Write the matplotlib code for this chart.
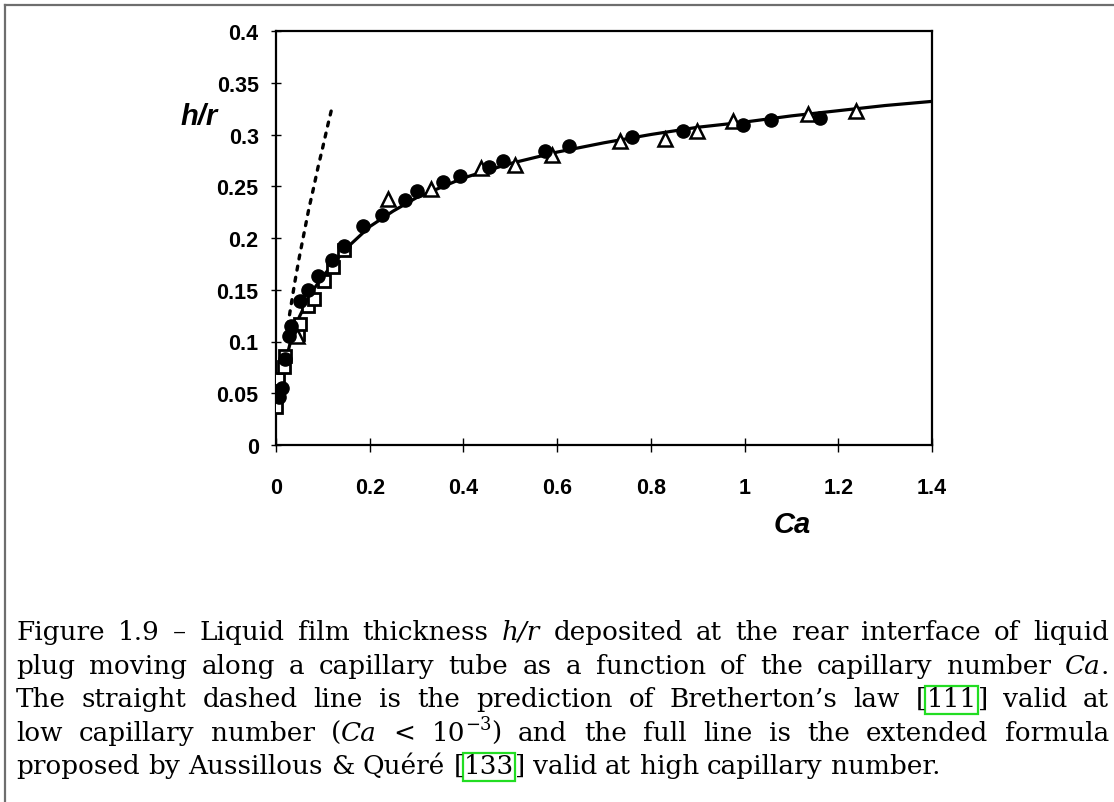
import matplotlib
matplotlib.use('Agg')
import matplotlib.pyplot as plt
from matplotlib.patches import Rectangle
from matplotlib.lines import Line2D
from matplotlib.transforms import IdentityTransform

# ---------------- data ----------------
circ_ca = [0.007, 0.012, 0.020, 0.028, 0.033, 0.052, 0.068, 0.090, 0.120, 0.145,
           0.186, 0.226, 0.275, 0.300, 0.357, 0.393, 0.455, 0.485, 0.574, 0.625,
           0.760, 0.868, 0.997, 1.056, 1.161]
circ_h = [0.046, 0.055, 0.083, 0.105, 0.115, 0.139, 0.150, 0.163, 0.179, 0.192,
          0.212, 0.222, 0.237, 0.245, 0.254, 0.260, 0.269, 0.274, 0.284, 0.289,
          0.298, 0.303, 0.309, 0.314, 0.316]

sq_ca = [0.000, 0.005, 0.018, 0.020, 0.047, 0.052, 0.068, 0.081, 0.102, 0.122, 0.145]
sq_h = [0.037, 0.064, 0.075, 0.086, 0.107, 0.117, 0.134, 0.141, 0.158, 0.172, 0.188]

tri_ca = [0.045, 0.239, 0.330, 0.438, 0.510, 0.590, 0.734, 0.830, 0.898, 0.975,
          1.135, 1.238]
tri_h = [0.105, 0.238, 0.247, 0.268, 0.271, 0.280, 0.294, 0.296, 0.303, 0.313,
         0.320, 0.323]

# full line (extended formula)
fit_ca = [0.004, 0.01, 0.02, 0.03, 0.05, 0.075, 0.10, 0.15, 0.20, 0.25, 0.30,
          0.40, 0.50, 0.60, 0.70, 0.80, 0.90, 1.00, 1.10, 1.20, 1.30, 1.40]
fit_h = [0.032, 0.056, 0.080, 0.098, 0.124, 0.147, 0.163, 0.190, 0.211, 0.226,
         0.239, 0.258, 0.272, 0.283, 0.292, 0.300, 0.307, 0.312, 0.318, 0.323,
         0.328, 0.332]

# dashed line (Bretherton's law)
bret_ca = [0.025, 0.030, 0.040, 0.050, 0.060, 0.070, 0.080, 0.090, 0.100, 0.110, 0.120]
bret_h = [0.115, 0.129, 0.157, 0.182, 0.205, 0.228, 0.248, 0.269, 0.288, 0.308, 0.327]

x_ticks = [0, 0.2, 0.4, 0.6, 0.8, 1.0, 1.2, 1.4]
x_labels = ['0', '0.2', '0.4', '0.6', '0.8', '1', '1.2', '1.4']
y_ticks = [0, 0.05, 0.1, 0.15, 0.2, 0.25, 0.3, 0.35, 0.4]
y_labels = ['0', '0.05', '0.1', '0.15', '0.2', '0.25', '0.3', '0.35', '0.4']

W, H = 1114, 803
fig = plt.figure(figsize=(W / 100, H / 100), dpi=100)
fig.patch.set_facecolor('white')

sans = ['Liberation Sans Narrow', 'Liberation Sans', 'DejaVu Sans']

ax = fig.add_axes([276 / W, (H - 446) / H, (932 - 276) / W, (446 - 32) / H])
ax.plot(fit_ca, fit_h, color='black', lw=2.3, zorder=2)
ax.plot(bret_ca, bret_h, color='black', lw=2.4, linestyle=(0, (1.2, 2.2)),
        dash_capstyle='round', zorder=2)
ax.plot(sq_ca, sq_h, linestyle='none', marker='s', markersize=9,
        markerfacecolor='white', markeredgecolor='black', markeredgewidth=2.0, zorder=3)
ax.plot(tri_ca, tri_h, linestyle='none', marker='^', markersize=9.5,
        markerfacecolor='white', markeredgecolor='black', markeredgewidth=1.8, zorder=3)
ax.plot(circ_ca, circ_h, linestyle='none', marker='o', markersize=9.5,
        markerfacecolor='black', markeredgecolor='black', zorder=4)

ax.set_xlim(0, 1.4)
ax.set_ylim(0, 0.4)
ax.set_xticks(x_ticks)
ax.set_xticklabels(x_labels)
ax.set_yticks(y_ticks)
ax.set_yticklabels(y_labels)
for lab in ax.get_xticklabels() + ax.get_yticklabels():
    lab.set_family(sans)
    lab.set_fontweight('bold')
    lab.set_fontsize(15.5)
ax.tick_params(axis='x', direction='inout', length=10, width=1.0, pad=18)
ax.tick_params(axis='y', direction='inout', length=7, width=1.0, pad=9)
for sp in ax.spines.values():
    sp.set_linewidth(1.6)

fig.text(199 / W, 1 - 117 / H, 'h/r', family=sans, fontweight='bold', style='italic',
         fontsize=21, ha='center', va='center')
fig.text(792 / W, 1 - 525 / H, 'Ca', family=sans, fontweight='bold', style='italic',
         fontsize=21, ha='center', va='center')

# ---------------- frame lines ----------------
ident = IdentityTransform()
fig.add_artist(Line2D([5, W], [H - 6, H - 6], color='#6e6e6e', lw=1.6, transform=ident))
fig.add_artist(Line2D([5, 5], [H - 6, 0], color='#6e6e6e', lw=1.6, transform=ident))

# ---------------- caption (justified) ----------------
# each word: list of (text, style) with style in 'n', 'i', 'sup', 'box'
cap_lines = [
    [[('Figure', 'n')], [('1.9', 'n')], [('–', 'n')], [('Liquid', 'n')], [('film', 'n')],
     [('thickness', 'n')], [('h/r', 'i')], [('deposited', 'n')], [('at', 'n')], [('the', 'n')],
     [('rear', 'n')], [('interface', 'n')], [('of', 'n')], [('liquid', 'n')]],
    [[('plug', 'n')], [('moving', 'n')], [('along', 'n')], [('a', 'n')], [('capillary', 'n')],
     [('tube', 'n')], [('as', 'n')], [('a', 'n')], [('function', 'n')], [('of', 'n')],
     [('the', 'n')], [('capillary', 'n')], [('number', 'n')], [('Ca', 'i'), ('.', 'n')]],
    [[('The', 'n')], [('straight', 'n')], [('dashed', 'n')], [('line', 'n')], [('is', 'n')],
     [('the', 'n')], [('prediction', 'n')], [('of', 'n')], [('Bretherton’s', 'n')],
     [('law', 'n')], [('[', 'n'), ('111', 'box'), (']', 'n')], [('valid', 'n')], [('at', 'n')]],
    [[('low', 'n')], [('capillary', 'n')], [('number', 'n')], [('(', 'n'), ('Ca', 'i')],
     [('<', 'n')], [('10', 'n'), ('−3', 'sup'), (')', 'n')], [('and', 'n')], [('the', 'n')],
     [('full', 'n')], [('line', 'n')], [('is', 'n')], [('the', 'n')], [('extended', 'n')],
     [('formula', 'n')]],
    [[('proposed', 'n')], [('by', 'n')], [('Aussillous', 'n')], [('&', 'n')],
     [('Quéré', 'n')], [('[', 'n'), ('133', 'box'), (']', 'n')], [('valid', 'n')], [('at', 'n')],
     [('high', 'n')], [('capillary', 'n')], [('number.', 'n')]],
]
baselines_from_top = [640, 674, 707, 741, 774]
x_left, x_right = 16, 1109
last_line_right = 940
serif = ['DejaVu Serif', 'Liberation Serif']

renderer = fig.canvas.get_renderer()


def piece_width(txt, style, fs):
    size = fs * 0.68 if style == 'sup' else fs
    t = fig.text(0, 0, txt, family=serif, fontsize=size,
                 style='italic' if style == 'i' else 'normal', transform=ident)
    w = t.get_window_extent(renderer).width
    t.remove()
    return w


def word_width(word, fs):
    return sum(piece_width(p, s, fs) for p, s in word)


def natural(ln, fs):
    sp = piece_width('a b', 'n', fs) - piece_width('ab', 'n', fs)
    return sum(word_width(w, fs) for w in ln) + sp * (len(ln) - 1)


fs = 16.0
# size the font so the (unjustified) last line ends where it does in the figure
fs *= (last_line_right - x_left) / natural(cap_lines[-1], fs)
max_nat = max(natural(ln, fs) for ln in cap_lines[:-1])
if max_nat > (x_right - x_left):
    fs *= (x_right - x_left) / max_nat * 0.995
space_w = piece_width('a b', 'n', fs) - piece_width('ab', 'n', fs)

fs_px = fs * 100 / 72
for li, (ln, btop) in enumerate(zip(cap_lines, baselines_from_top)):
    y = H - btop
    widths = [word_width(w, fs) for w in ln]
    if li < len(cap_lines) - 1:
        gap = (x_right - x_left - sum(widths)) / (len(ln) - 1)
    else:
        gap = space_w
    x = x_left
    for word, ww in zip(ln, widths):
        px = x
        for txt, st in word:
            size = fs * 0.68 if st == 'sup' else fs
            yy = y + 0.42 * fs_px if st == 'sup' else y
            fig.text(px, yy, txt, family=serif, fontsize=size,
                     style='italic' if st == 'i' else 'normal',
                     ha='left', va='baseline', transform=ident, color='black')
            pw = piece_width(txt, st, fs)
            if st == 'box':
                fig.add_artist(Rectangle((px - 1, y - 0.30 * fs_px), pw + 2, 1.08 * fs_px,
                                         fill=False, edgecolor='#22dd22', lw=1.6,
                                         transform=ident))
            px += pw
        x += ww + gap

fig.savefig('out.png', dpi=100, facecolor='white')
